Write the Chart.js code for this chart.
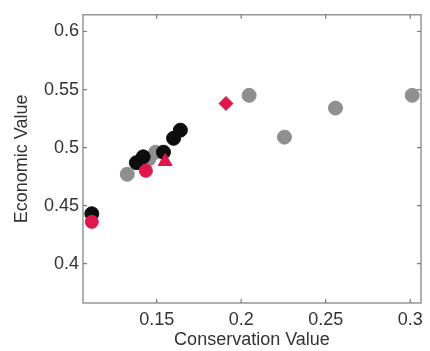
<!DOCTYPE html>
<html>
<head>
<meta charset="utf-8">
<script src="https://cdn.jsdelivr.net/npm/chart.js@4"></script>
<style>
html,body{margin:0;padding:0;background:#fff;}
#wrap{width:430px;height:351px;}
</style>
</head>
<body>
<div id="wrap"><canvas id="chart" width="430" height="351"></canvas></div>
<script>
// values
const grayPts=[[0.1326,0.477],[0.1453,0.490],[0.1494,0.496],[0.2047,0.545],[0.2256,0.509],[0.2558,0.534],[0.3012,0.545]];
const blackPts=[[0.1116,0.443],[0.138,0.487],[0.142,0.492],[0.154,0.496],[0.160,0.508],[0.164,0.515]];
const redPts=[[0.1116,0.436],[0.1436,0.480],[0.155,0.488],[0.191,0.538]];
const redShapes=["circle","circle","triangle","rectRot"];
const redSizes=[6.5,6.5,8,7];
const xTicks=[0.15,0.2,0.25,0.3];
const yTicks=[0.4,0.45,0.5,0.55,0.6];

const font={family:"'Liberation Sans', Arial, Helvetica, sans-serif",size:18};
const toXY=a=>a.map(p=>({x:p[0],y:p[1]}));

// matlab style box with inward ticks
const boxPlugin={
    id:"box",
    afterDraw(c){
        const ctx=c.ctx, a=c.chartArea;
        const xs=c.scales.x, ys=c.scales.y;
        ctx.save();
        ctx.strokeStyle="#7a7a7a";
        ctx.lineWidth=1.2;
        ctx.strokeRect(a.left,a.top,a.right-a.left,a.bottom-a.top);
        ctx.beginPath();
        xTicks.forEach(v=>{
            let px=xs.getPixelForValue(v);
            ctx.moveTo(px,a.bottom);ctx.lineTo(px,a.bottom-4);
            ctx.moveTo(px,a.top);ctx.lineTo(px,a.top+4);
        });
        yTicks.forEach(v=>{
            let py=ys.getPixelForValue(v);
            ctx.moveTo(a.left,py);ctx.lineTo(a.left+4,py);
            ctx.moveTo(a.right,py);ctx.lineTo(a.right-4,py);
        });
        ctx.stroke();
        ctx.restore();
    }
};

new Chart(document.getElementById("chart"),{
    type:"scatter",
    data:{datasets:[
        {label:"gray",data:toXY(grayPts),backgroundColor:"#8f8f8f",borderColor:"#8f8f8f",pointRadius:7,order:3},
        {label:"black",data:toXY(blackPts),backgroundColor:"#0d0d0d",borderColor:"#0d0d0d",pointRadius:7,order:2},
        {label:"red",data:toXY(redPts),backgroundColor:"#e0164e",borderColor:"#e0164e",pointRadius:redSizes,pointStyle:redShapes,order:1}
    ]},
    options:{
        responsive:false,
        animation:false,
        layout:{padding:{top:8,right:3,left:0,bottom:0}},
        plugins:{legend:{display:false},tooltip:{enabled:false}},
        scales:{
            x:{
                type:"linear",min:0.1064,max:0.3064,
                afterBuildTicks:s=>{s.ticks=xTicks.map(v=>({value:v}));},
                afterFit:s=>{s.height=48;},
                grid:{display:false,drawTicks:false},
                border:{display:false},
                ticks:{color:"#333",font:font,padding:6,maxRotation:0,callback:v=>String(v)},
                title:{display:true,text:"Conservation Value",color:"#333",font:font,padding:{top:-2,bottom:0}}
            },
            y:{
                type:"linear",min:0.3661,max:0.6144,
                afterBuildTicks:s=>{s.ticks=yTicks.map(v=>({value:v}));},
                afterFit:s=>{s.width=83;},
                grid:{display:false,drawTicks:false},
                border:{display:false},
                ticks:{color:"#333",font:font,padding:4,callback:v=>String(v)},
                title:{display:true,text:"Economic Value",color:"#333",font:font,padding:{top:11,bottom:0}}
            }
        }
    },
    plugins:[boxPlugin]
});
</script>
</body>
</html>
